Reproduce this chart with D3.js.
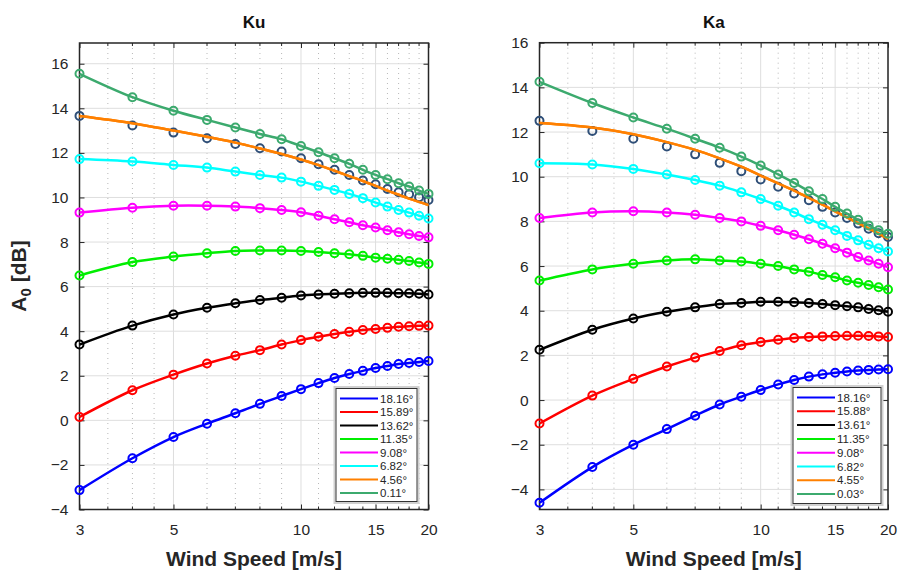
<!DOCTYPE html>
<html>
<head>
<meta charset="utf-8">
<script src="https://cdn.jsdelivr.net/npm/d3@7"></script>
<style>
  body { margin: 0; background: #fff; }
  svg { display: block; font-family: "Liberation Sans", Arial, sans-serif; }
</style>
</head>
<body>
<script>
// wind speeds where the markers sit
var windSpeeds = [3, 4, 5, 6, 7, 8, 9, 10, 11, 12, 13, 14, 15, 16, 17, 18, 19, 20];
var xTickValues = [3, 5, 10, 15, 20];
var xMinorValues = [3.5, 4, 4.5, 6, 7, 8, 9, 11, 12, 13, 14, 16, 17, 18, 19];
var yTickValues = [-4, -2, 0, 2, 4, 6, 8, 10, 12, 14, 16];

var kuLabels = ["18.16°", "15.89°", "13.62°", "11.35°", "9.08°", "6.82°", "4.56°", "0.11°"];
var kaLabels = ["18.16°", "15.88°", "13.61°", "11.35°", "9.08°", "6.82°", "4.55°", "0.03°"];

// Ku band
var ku18 = [-3.13, -1.7, -0.75, -0.15, 0.32, 0.74, 1.09, 1.4, 1.67, 1.9, 2.08, 2.22, 2.35, 2.44, 2.53, 2.57, 2.62, 2.66];
var ku16 = [0.15, 1.35, 2.05, 2.55, 2.9, 3.15, 3.4, 3.6, 3.75, 3.87, 3.97, 4.05, 4.1, 4.15, 4.2, 4.22, 4.24, 4.25];
var ku14 = [3.4, 4.25, 4.75, 5.05, 5.25, 5.4, 5.5, 5.6, 5.65, 5.68, 5.7, 5.72, 5.72, 5.72, 5.7, 5.7, 5.68, 5.65];
var ku11 = [6.5, 7.1, 7.35, 7.5, 7.6, 7.62, 7.62, 7.6, 7.55, 7.5, 7.45, 7.38, 7.3, 7.25, 7.2, 7.15, 7.08, 7.02];
var ku9 = [9.32, 9.54, 9.63, 9.63, 9.59, 9.52, 9.44, 9.34, 9.18, 9.02, 8.89, 8.75, 8.65, 8.53, 8.44, 8.35, 8.27, 8.21];
var ku7 = [11.72, 11.61, 11.46, 11.34, 11.16, 11.01, 10.89, 10.71, 10.52, 10.34, 10.16, 9.97, 9.77, 9.59, 9.44, 9.32, 9.18, 9.06];
var ku5 = [13.66, 13.23, 12.91, 12.66, 12.4, 12.21, 12.06, 11.76, 11.49, 11.24, 11.01, 10.76, 10.59, 10.38, 10.23, 10.14, 10.01, 9.89];
var ku5Fit = [13.65, 13.33, 13.0, 12.72, 12.46, 12.2, 11.95, 11.7, 11.45, 11.2, 10.96, 10.74, 10.52, 10.31, 10.12, 9.95, 9.8, 9.66];
var ku0 = [15.55, 14.5, 13.89, 13.48, 13.14, 12.85, 12.61, 12.31, 12.03, 11.76, 11.51, 11.24, 11.01, 10.82, 10.64, 10.49, 10.31, 10.16];

// Ka band
var ka18 = [-4.6, -3.0, -2.0, -1.3, -0.7, -0.2, 0.15, 0.45, 0.7, 0.9, 1.05, 1.15, 1.22, 1.28, 1.32, 1.35, 1.37, 1.38];
var ka16 = [-1.05, 0.2, 0.95, 1.5, 1.9, 2.2, 2.45, 2.6, 2.7, 2.78, 2.82, 2.85, 2.87, 2.88, 2.88, 2.87, 2.85, 2.82];
var ka14 = [2.25, 3.15, 3.65, 3.95, 4.15, 4.3, 4.35, 4.4, 4.4, 4.38, 4.35, 4.3, 4.25, 4.2, 4.15, 4.08, 4.02, 3.95];
var ka11 = [5.35, 5.85, 6.1, 6.25, 6.3, 6.25, 6.2, 6.1, 6.0, 5.85, 5.75, 5.6, 5.5, 5.35, 5.25, 5.15, 5.05, 4.95];
var ka9 = [8.15, 8.4, 8.45, 8.4, 8.3, 8.15, 8.0, 7.8, 7.6, 7.4, 7.2, 7.0, 6.8, 6.6, 6.4, 6.25, 6.1, 5.95];
var ka7 = [10.6, 10.55, 10.35, 10.1, 9.85, 9.6, 9.3, 9.0, 8.7, 8.4, 8.1, 7.85, 7.6, 7.35, 7.15, 6.95, 6.8, 6.65];
var ka5 = [12.5, 12.05, 11.7, 11.35, 11.0, 10.62, 10.25, 9.88, 9.55, 9.25, 8.95, 8.65, 8.4, 8.15, 7.9, 7.67, 7.47, 7.3];
var ka5Fit = [12.4, 12.2, 11.9, 11.55, 11.2, 10.82, 10.45, 10.05, 9.7, 9.38, 9.05, 8.75, 8.45, 8.18, 7.92, 7.68, 7.45, 7.22];
var ka0 = [14.25, 13.3, 12.65, 12.15, 11.7, 11.3, 10.9, 10.5, 10.1, 9.72, 9.35, 9.0, 8.65, 8.35, 8.07, 7.82, 7.6, 7.45];

var lineColors = ["#0000ff", "#ff0000", "#000000", "#00ee00", "#ff00ff", "#00ffff", "#ff8000", "#3caa6e"];
var markerColors = ["#0000ff", "#ff0000", "#000000", "#00ee00", "#ff00ff", "#00ffff", "#2f4f78", "#3caa6e"];

var width = 898, height = 571;
var svg = d3.select("body").append("svg")
  .attr("width", width)
  .attr("height", height);

function drawPanel(p) {
  var x = d3.scaleLog().domain([3, 20]).range([p.left, p.right]);
  var y = d3.scaleLinear().domain(p.yDomain).range([p.bottom, p.top]);
  var g = svg.append("g");

  // minor grid (dotted)
  g.selectAll(".minor").data(xMinorValues).enter().append("line")
    .attr("x1", function(d){ return x(d); })
    .attr("x2", function(d){ return x(d); })
    .attr("y1", p.top).attr("y2", p.bottom)
    .attr("stroke", "#b8b8b8")
    .attr("stroke-width", 1)
    .attr("stroke-dasharray", "1,4");

  // major grid
  g.selectAll(".vgrid").data(xTickValues).enter().append("line")
    .attr("x1", function(d){ return x(d); })
    .attr("x2", function(d){ return x(d); })
    .attr("y1", p.top).attr("y2", p.bottom)
    .attr("stroke", "#dedede");
  g.selectAll(".hgrid").data(yTickValues.filter(function(d){ return y(d) >= p.top - 0.5 && y(d) <= p.bottom; }))
    .enter().append("line")
    .attr("x1", p.left).attr("x2", p.right)
    .attr("y1", function(d){ return y(d); })
    .attr("y2", function(d){ return y(d); })
    .attr("stroke", "#dedede");

  // axes
  var xAxis = d3.axisBottom(x).tickValues(xTickValues).tickFormat(d3.format("d")).tickSizeInner(-5).tickSizeOuter(0).tickPadding(14);
  var xAxisTop = d3.axisTop(x).tickValues(xTickValues).tickFormat("").tickSizeInner(-5).tickSizeOuter(0);
  var yAxis = d3.axisLeft(y).tickValues(yTickValues).tickFormat(d3.format("d")).tickSizeInner(-5).tickSizeOuter(0).tickPadding(11);
  var yAxisRight = d3.axisRight(y).tickValues(yTickValues).tickFormat("").tickSizeInner(-5).tickSizeOuter(0);

  var ax = g.append("g").attr("transform", "translate(0," + p.bottom + ")").call(xAxis);
  var axT = g.append("g").attr("transform", "translate(0," + p.top + ")").call(xAxisTop);
  var ay = g.append("g").attr("transform", "translate(" + p.left + ",0)").call(yAxis);
  var ayR = g.append("g").attr("transform", "translate(" + p.right + ",0)").call(yAxisRight);

  // minor ticks
  [[p.bottom, -3], [p.top, 3]].forEach(function(t){
    g.selectAll(null).data(xMinorValues).enter().append("line")
      .attr("x1", function(d){ return x(d); })
      .attr("x2", function(d){ return x(d); })
      .attr("y1", t[0]).attr("y2", t[0] + t[1])
      .attr("stroke", "#262626");
  });

  [ax, axT, ay, ayR].forEach(function(a){
    a.select(".domain").remove();
    a.selectAll("line").attr("stroke", "#262626");
    a.selectAll("text").attr("fill", "#262626").attr("font-size", 15.5);
  });

  // box
  g.append("rect")
    .attr("x", p.left).attr("y", p.top)
    .attr("width", p.right - p.left).attr("height", p.bottom - p.top)
    .attr("fill", "none").attr("stroke", "#262626").attr("stroke-width", 1.5);

  // clip
  var clipId = "clip" + p.name;
  svg.append("clipPath").attr("id", clipId).append("rect")
    .attr("x", p.left - 6).attr("y", p.top)
    .attr("width", p.right - p.left + 12).attr("height", p.bottom - p.top + 6);
  var plot = g.append("g").attr("clip-path", "url(#" + clipId + ")");

  var line = d3.line()
    .x(function(d, i){ return x(windSpeeds[i]); })
    .y(function(d){ return y(d); })
    .curve(d3.curveCatmullRom.alpha(0.5));

  p.series.forEach(function(s, k){
    plot.append("path")
      .datum(s)
      .attr("d", line)
      .attr("fill", "none")
      .attr("stroke", lineColors[k])
      .attr("stroke-width", 2.5);
    plot.selectAll(null).data(p.markers[k]).enter().append("circle")
      .attr("cx", function(d, i){ return x(windSpeeds[i]); })
      .attr("cy", function(d){ return y(d); })
      .attr("r", 4)
      .attr("fill", "none")
      .attr("stroke", markerColors[k])
      .attr("stroke-width", 2);
    if (k == 6) {
      // the fitted orange line sits over its markers
      plot.append("path")
        .datum(s)
        .attr("d", line)
        .attr("fill", "none")
        .attr("stroke", lineColors[k])
        .attr("stroke-width", 2.5);
    }
  });

  // title
  g.append("text")
    .attr("x", (p.left + p.right) / 2).attr("y", 28)
    .attr("text-anchor", "middle")
    .attr("font-size", 17).attr("font-weight", "bold")
    .attr("fill", "#111")
    .text(p.name);

  // x label
  g.append("text")
    .attr("x", (p.left + p.right) / 2).attr("y", 566)
    .attr("text-anchor", "middle")
    .attr("font-size", 21).attr("font-weight", "bold")
    .attr("fill", "#262626")
    .text("Wind Speed [m/s]");

  // legend
  var lg = g.append("g").attr("transform", "translate(" + p.legend[0] + "," + p.legend[1] + ")");
  lg.append("rect")
    .attr("x", -1.5).attr("y", -1.5)
    .attr("width", p.legend[2] + 3).attr("height", p.legend[3] + 3)
    .attr("fill", "none").attr("stroke", "#d0d0d0").attr("stroke-width", 2);
  lg.append("rect")
    .attr("width", p.legend[2]).attr("height", p.legend[3])
    .attr("fill", "#fff").attr("stroke", "#333").attr("stroke-width", 1);
  var rows = lg.selectAll(".row").data(p.labels).enter().append("g")
    .attr("transform", function(d, i){ return "translate(0," + (10 + i * p.legend[4]) + ")"; });
  rows.append("line")
    .attr("x1", 4).attr("x2", 42)
    .attr("stroke", function(d, i){ return lineColors[i]; })
    .attr("stroke-width", 2);
  rows.append("text")
    .attr("x", 44).attr("y", 4)
    .attr("font-size", 11.5)
    .attr("fill", "#262626")
    .text(function(d){ return d; });
}

drawPanel({
  name: "Ku", left: 79.5, right: 428.5, top: 43, bottom: 509.5,
  yDomain: [-4, 16.93],
  series: [ku18, ku16, ku14, ku11, ku9, ku7, ku5Fit, ku0],
  markers: [ku18, ku16, ku14, ku11, ku9, ku7, ku5, ku0],
  labels: kuLabels,
  legend: [336, 388.5, 81, 113, 13.5]
});

drawPanel({
  name: "Ka", left: 539.5, right: 888, top: 42.7, bottom: 509.5,
  yDomain: [-4.9, 16],
  series: [ka18, ka16, ka14, ka11, ka9, ka7, ka5Fit, ka0],
  markers: [ka18, ka16, ka14, ka11, ka9, ka7, ka5, ka0],
  labels: kaLabels,
  legend: [793, 387.5, 88, 116, 13.8]
});

// y label
svg.append("text")
  .attr("transform", "translate(26,276) rotate(-90)")
  .attr("text-anchor", "middle")
  .attr("font-size", 21).attr("font-weight", "bold")
  .attr("fill", "#262626")
  .html('A<tspan dy="5" font-size="15">0</tspan><tspan dy="-5"> [dB]</tspan>');
</script>
</body>
</html>
